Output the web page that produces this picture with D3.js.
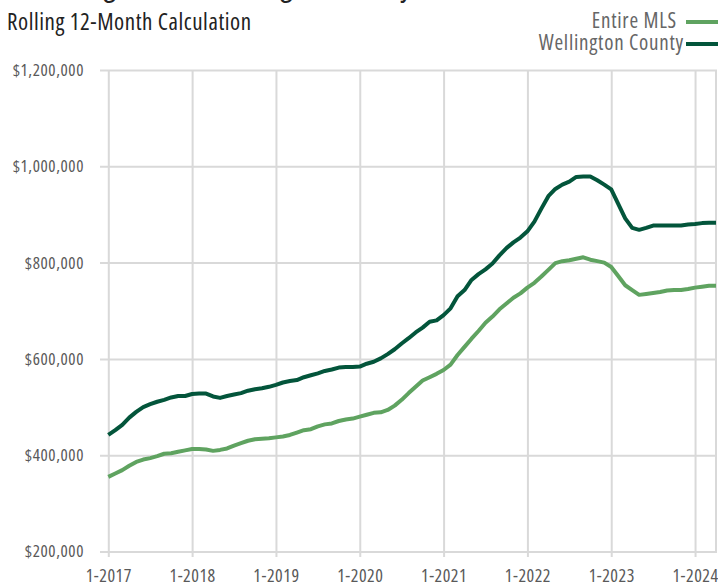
<!DOCTYPE html>
<html>
<head>
<meta charset="utf-8">
<script src="https://cdn.jsdelivr.net/npm/d3@7"></script>
<style>
  body { margin: 0; background: #fff; }
  svg text { font-family: "Open Sans", sans-serif; font-stretch: condensed; }
</style>
</head>
<body>
<svg id="chart" width="718" height="587"></svg>
<script>
var width = 718,
	height = 587;

// months from 1-2017 to 4-2024
var startYear = 2017,
	monthCount = 88;

var yearLabels = ['1-2017','1-2018','1-2019','1-2020','1-2021','1-2022','1-2023','1-2024'];
var yTicks = [200000, 400000, 600000, 800000, 1000000, 1200000];

// values in thousands of dollars, one per month
var entireMLS = [
	355,362,369,378,386,391,394,398,403,404,407,410,
	413,413,412,409,411,414,420,425,430,433,434,435,
	437,439,442,447,452,454,460,464,466,471,474,476,
	480,484,488,489,494,503,515,529,542,555,562,569,
	577,588,608,625,642,658,675,688,703,715,727,736,
	748,758,771,785,799,803,805,808,811,806,803,800,
	791,772,753,743,733,735,737,739,742,743,743,745,
	748,750,752,752
];
var wellington = [
	442,452,463,478,490,500,506,511,515,520,523,523,
	527,528,528,522,519,523,526,529,534,537,539,542,
	546,551,554,556,562,566,570,575,578,582,583,583,
	584,590,594,601,610,620,632,643,655,665,677,680,
	691,705,730,743,764,776,786,798,815,830,842,852,
	865,885,912,938,953,962,968,978,979,979,971,962,
	952,922,892,872,868,872,877,877,877,877,877,879,
	880,882,883,883
];

var seriesNames = ['Entire MLS', 'Wellington County'];
var seriesColors = ['#5fa360', '#03553b'];

var series = [entireMLS, wellington].map((vals,i)=>({
	name: seriesNames[i],
	color: seriesColors[i],
	values: vals.map(v=>v*1000)
}));

//Scales
var xScale = d3.scaleLinear()
			.domain([0, monthCount-1])
			.range([108.3, 716]);

var yScale = d3.scaleLinear()
			.domain([200000, 1200000])
			.range([551.5, 70]);

var svg = d3.select('#chart');

//Big title (mostly cut off at the top)
svg.append('text')
	.attr('x', 412)
	.attr('y', -5)
	.attr('text-anchor','end')
	.attr('font-size', 32)
	.attr('fill','#222')
	.text('Average Price - Wellington County');

//Subtitle
svg.append('text')
	.attr('x', 7)
	.attr('y', 30)
	.attr('font-size', 23)
	.attr('letter-spacing', 0.55)
	.attr('fill','#222')
	.text('Rolling 12-Month Calculation');

//Y axis + horizontal grid
var yAxis = svg.append('g')
	.attr('transform','translate(717,0)')
	.call(d3.axisLeft(yScale)
		.tickValues(yTicks)
		.tickSize(617)
		.tickPadding(16)
		.tickFormat(d=>'$'+d3.format(',')(d)));

yAxis.select('.domain').remove();
yAxis.selectAll('line').attr('stroke','#d9d9d9').attr('stroke-width',2);
yAxis.selectAll('text').attr('font-size',17).attr('letter-spacing',0.6).attr('fill','#595959');

//X axis + vertical grid
var janIdx = yearLabels.map((d,i)=>i*12);

var xAxis = svg.append('g')
	.attr('transform','translate(0,70)')
	.call(d3.axisBottom(xScale)
		.tickValues(janIdx)
		.tickSize(487)
		.tickPadding(12)
		.tickFormat((d,i)=>yearLabels[i]));

xAxis.select('.domain').remove();
xAxis.selectAll('line').attr('stroke','#d9d9d9').attr('stroke-width',2);
xAxis.selectAll('text').attr('font-size',18).attr('letter-spacing',0.5).attr('fill','#595959');

//right border of plot
svg.append('line')
	.attr('x1', xScale(monthCount-1)).attr('x2', xScale(monthCount-1))
	.attr('y1', yScale(1200000)).attr('y2', yScale(200000))
	.attr('stroke','#d9d9d9').attr('stroke-width',2);

//Lines
var lineGen = d3.line()
	.x((d,i)=>xScale(i))
	.y(d=>yScale(d));

svg.selectAll('.series')
	.data(series)
	.enter()
	.append('path')
	.attr('class','series')
	.attr('d', d=>lineGen(d.values))
	.attr('fill','none')
	.attr('stroke', d=>d.color)
	.attr('stroke-width', 4)
	.attr('stroke-linejoin','round');

//Legend
var legend = svg.selectAll('.legend')
	.data(series)
	.enter()
	.append('g')
	.attr('class','legend')
	.attr('transform',(d,i)=>'translate(0,'+(22+i*22)+')');

legend.append('line')
	.attr('x1',686).attr('x2',718)
	.attr('stroke',d=>d.color)
	.attr('stroke-width',4);

legend.append('text')
	.attr('x',(d,i)=>i==0 ? 677 : 684)
	.attr('y',6)
	.attr('text-anchor','end')
	.attr('font-size',21)
	.attr('letter-spacing',0.75)
	.attr('fill','#666')
	.text(d=>d.name);
</script>
</body>
</html>
